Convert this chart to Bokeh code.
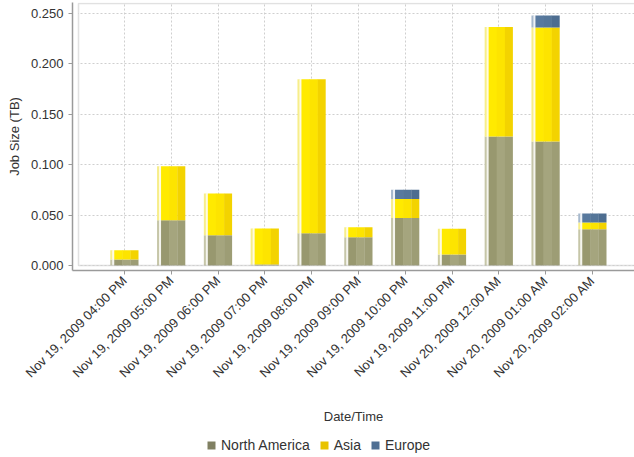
import math
from bokeh.plotting import figure
from bokeh.layouts import column
from bokeh.models import (ColumnDataSource, Range1d, FixedTicker, NumeralTickFormatter,
                          Legend, LegendItem, BoxAnnotation)
from bokeh.transform import dodge
from bokeh.embed import file_html
from bokeh.resources import INLINE

# ---------------- data ----------------
times = ["Nov 19, 2009 04:00 PM", "Nov 19, 2009 05:00 PM", "Nov 19, 2009 06:00 PM",
         "Nov 19, 2009 07:00 PM", "Nov 19, 2009 08:00 PM", "Nov 19, 2009 09:00 PM",
         "Nov 19, 2009 10:00 PM", "Nov 19, 2009 11:00 PM", "Nov 20, 2009 12:00 AM",
         "Nov 20, 2009 01:00 AM", "Nov 20, 2009 02:00 AM"]
north_america = [0.006, 0.045, 0.030, 0.001, 0.032, 0.028, 0.047, 0.011, 0.128, 0.123, 0.036]
asia = [0.0092, 0.0535, 0.0414, 0.0357, 0.1528, 0.0099, 0.0189, 0.0255, 0.1087, 0.1131, 0.0066]
europe = [0.0, 0.0, 0.0, 0.0, 0.0, 0.0, 0.0092, 0.0, 0.0, 0.0119, 0.0089]
series = ["North America", "Asia", "Europe"]
y_ticks = [0.0, 0.05, 0.10, 0.15, 0.20, 0.25]

# ---------------- styles ----------------
FONT = "Liberation Sans"
FS = "13px"
TXT = "#333333"
FRAME = "#9a9a9a"
legend_colors = ["#808062", "#e8c300", "#4f6f93"]
PX = 46.8            # pixels per category
VPX = 0.25 / 252     # data units per vertical pixel
layers = [
    (-13.0, 2.5, ["#c6c6a8", "#f7ee8a", "#a6b8cc"]),
    (-11.0, 2.5, ["#f5f5ee", "#fffbe2", "#eef2f6"]),
    (-6.0, 8.5, ["#98986f", "#ffea00", "#58799e"]),
    (2.0, 8.5, ["#a5a57e", "#fde400", "#557699"]),
    (10.0, 8.0, ["#9d9d75", "#f3d300", "#4d6d90"]),
]

src = ColumnDataSource(dict(x=list(range(len(times))), time=times,
                            **{"North America": north_america, "Asia": asia, "Europe": europe}))

inner_left = -46.0 / PX            # plot box left edge (data units)
x_start = inner_left - 6.0 / PX    # axis line sits 6px left of the plot box
x_end = x_start + 562.0 / PX
y_start = -5 * VPX                 # axis line sits 5px below the plot box
y_top = 262 * VPX                  # plot box top
y_end = y_top + 1 * VPX

p = figure(width=634, height=430,
           x_range=Range1d(x_start, x_end), y_range=Range1d(y_start, y_end),
           output_backend="svg", toolbar_location=None,
           min_border_left=72, min_border_right=0, min_border_top=2, min_border_bottom=160)

p.background_fill_color = "white"
p.border_fill_color = "white"
p.outline_line_color = None

for off, w, cols in layers:
    p.vbar_stack(series, x=dodge("x", off / PX), width=w / PX, fill_color=cols,
                 line_color=None, source=src)

# grid
p.xgrid.ticker = FixedTicker(ticks=list(range(len(times))))
p.ygrid.ticker = FixedTicker(ticks=y_ticks)
for g in (p.xgrid, p.ygrid):
    g.grid_line_color = "#cfcfcf"
    g.grid_line_dash = "2 2"
    g.grid_line_width = 1

# white gaps between the offset axes and the plot box
p.add_layout(BoxAnnotation(top=0, left=x_start + 0.03, fill_color="white", fill_alpha=1,
                           line_color=None, level="underlay"))
p.add_layout(BoxAnnotation(right=inner_left, bottom=y_start + 2 * VPX, fill_color="white",
                           fill_alpha=1, line_color=None, level="underlay"))
# plot box
p.add_layout(BoxAnnotation(left=inner_left, right=x_end + 1, bottom=0, top=y_top,
                           fill_alpha=0, line_color=FRAME, line_width=1.5))

# axes
p.xaxis.ticker = FixedTicker(ticks=list(range(len(times))))
p.xaxis.major_label_overrides = {i: t for i, t in enumerate(times)}
p.xaxis.major_label_orientation = math.pi / 4
p.xaxis.axis_label = "Date/Time"
p.yaxis.ticker = FixedTicker(ticks=y_ticks)
p.yaxis.formatter = NumeralTickFormatter(format="0.000")
p.yaxis.axis_label = "Job Size (TB)"
for ax in (p.xaxis, p.yaxis):
    ax.axis_line_color = FRAME
    ax.axis_line_width = 1.5
    ax.major_tick_line_color = FRAME
    ax.major_tick_out = 4
    ax.major_tick_in = 0
    ax.minor_tick_line_color = None
    ax.major_label_text_font = FONT
    ax.major_label_text_font_size = FS
    ax.major_label_text_color = TXT
    ax.axis_label_text_font = FONT
    ax.axis_label_text_font_size = FS
    ax.axis_label_text_font_style = "normal"
    ax.axis_label_text_color = TXT
p.yaxis.major_label_standoff = 5
p.yaxis.axis_label_standoff = 6
p.xaxis.major_label_standoff = 4
p.xaxis.axis_label_standoff = 20

# legend in a thin strip below the chart (swatch renderers sit outside the strip's range)
lf = figure(width=634, height=27, output_backend="svg", toolbar_location=None,
            x_axis_location=None, y_axis_location=None, min_border=0,
            x_range=Range1d(0, 1), y_range=Range1d(0, 1))
lf.outline_line_color = None
lf.grid.visible = False
swatch_src = ColumnDataSource(dict(x=[5.0], top=[1.0]))
items = []
for name, c in zip(series, legend_colors):
    r = lf.vbar(x="x", top="top", width=0.5, fill_color=c, line_color=None, source=swatch_src)
    items.append(LegendItem(label=name, renderers=[r]))
legend = Legend(items=items, orientation="horizontal", location=(134, 4),
                label_text_font=FONT, label_text_font_size="14px", label_text_color=TXT,
                glyph_width=10, glyph_height=10, spacing=9, label_standoff=5,
                label_height=14, border_line_color=None, background_fill_alpha=0,
                padding=2, margin=0)
lf.add_layout(legend, "center")

layout = column(p, lf, spacing=0)
open("out.html", "w").write(file_html(layout, INLINE))
